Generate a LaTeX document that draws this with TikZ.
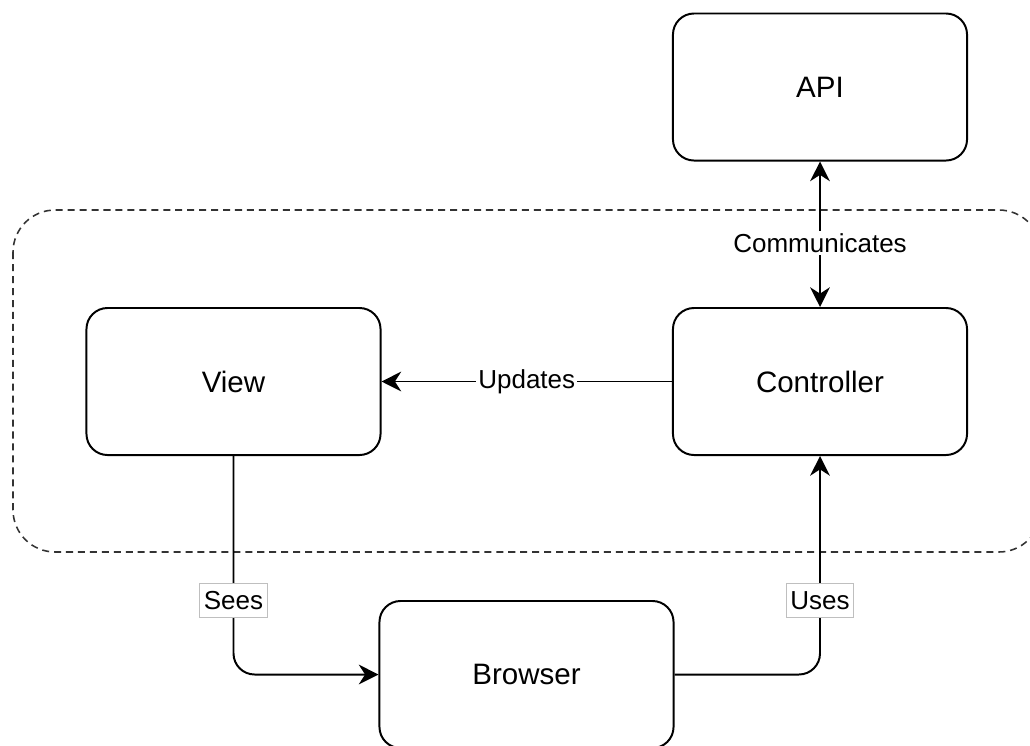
\documentclass[tikz,border=0pt]{standalone}
\usepackage{fontspec}
\setmainfont{Liberation Sans}
\usetikzlibrary{arrows.meta}
\begin{document}
\begin{tikzpicture}[x=0.025cm,y=-0.025cm,
  tip/.tip={Stealth[length=14pt,width=14pt,inset=4.5pt]},
  box/.style={draw, line width=1.4pt, rounded corners=15pt, minimum width=7.35cm, minimum height=3.675cm, font=\fontsize{21}{25}\selectfont, inner sep=0pt},
  conn/.style={line width=1.4pt, rounded corners=15pt},
  lbl/.style={sharp corners, fill=white, font=\fontsize{18.5}{22}\selectfont, inner sep=1.5pt},
  blbl/.style={lbl, draw=black!25, line width=0.6pt, inner xsep=3pt, inner ysep=0pt, minimum height=0.85cm},
  group/.style={draw=black!80, line width=1.1pt, dash pattern=on 5pt off 3.5pt, rounded corners=30pt}]
\useasboundingbox (0,0) rectangle (1030,745);
\clip (0,0) rectangle (1030,745);
\fill[white] (0,0) rectangle (1030,745);

\draw[group] (13,210) rectangle (1041,552);

\node[box] (api) at (820,87) {API};
\node[box] (ctrl) at (820,381.5) {Controller};
\node[box] (view) at (233.5,381.5) {View};
\node[box] (browser) at (526.5,674.5) {Browser};

\draw[conn, tip-tip] (ctrl.north) -- node[lbl, pos=0.44] {Communicates} (api.south);
\draw[conn, -tip] (ctrl.west) -- node[lbl, pos=0.5] {Updates} (view.east);
\draw[conn, -tip] (view.south) |- node[blbl, pos=0.33] {Sees} (browser.west);
\draw[conn, -tip] (browser.east) -| node[blbl, pos=0.67] {Uses} (ctrl.south);
\end{tikzpicture}
\end{document}
